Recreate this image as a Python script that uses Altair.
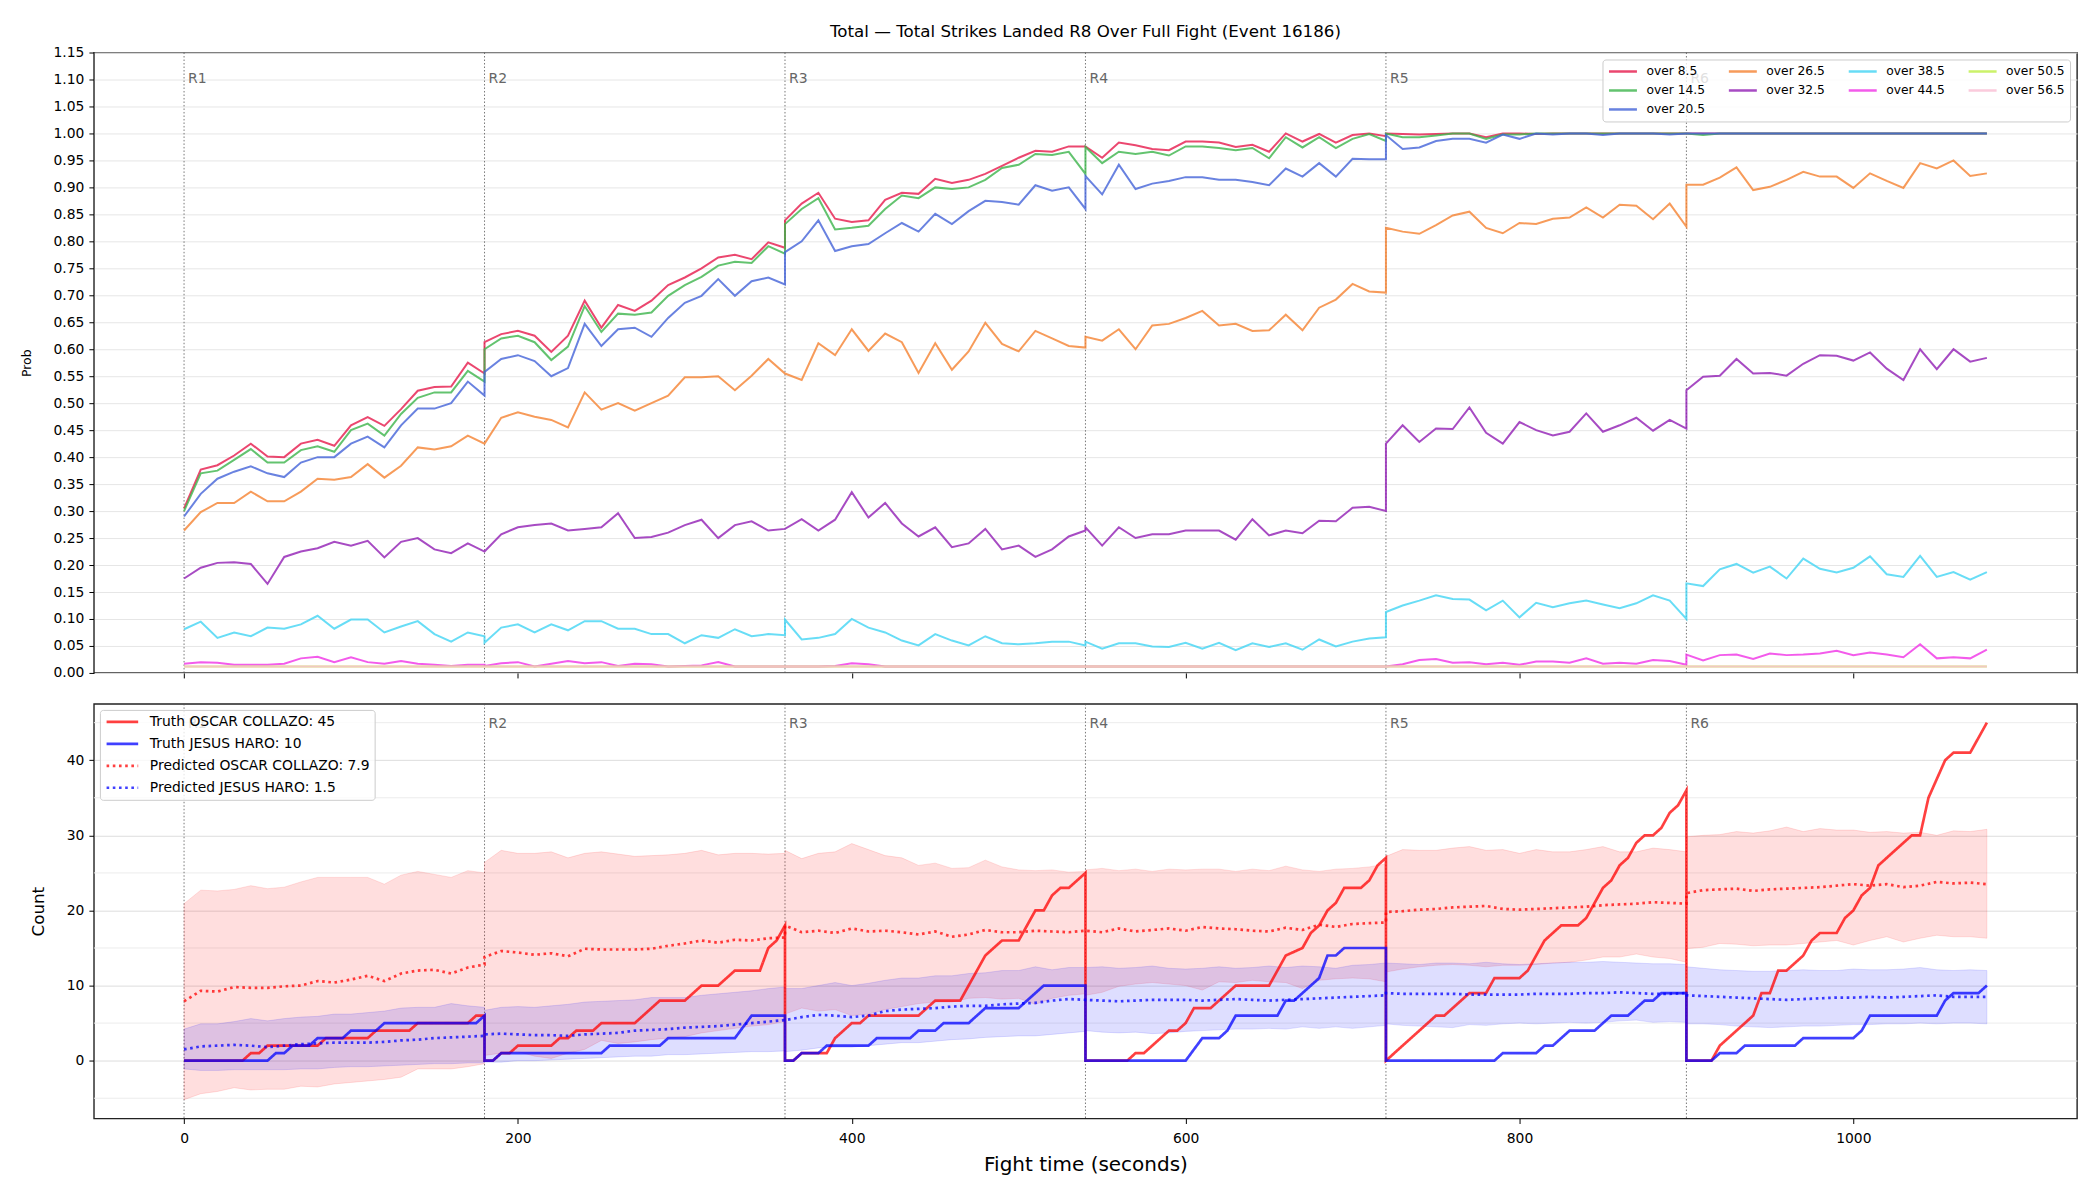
import altair as alt
import pandas as pd

TITLE = "Total \u2014 Total Strikes Landed R8 Over Full Fight (Event 16186)"
ROUND_STARTS = [0, 180, 360, 540, 720, 900]
ROUND_NAMES = ["R1", "R2", "R3", "R4", "R5", "R6"]
T_OFF = [0, 10, 20, 30, 40, 50, 60, 70, 80, 90, 100, 110, 120, 130, 140, 150, 160, 170, 180]
X_TICKS = [0, 200, 400, 600, 800, 1000]
PROB_TICKS = [0.00, 0.05, 0.10, 0.15, 0.20, 0.25, 0.30, 0.35, 0.40, 0.45, 0.50, 0.55,
              0.60, 0.65, 0.70, 0.75, 0.80, 0.85, 0.90, 0.95, 1.00, 1.05, 1.10, 1.15]
COUNT_TICKS = [0, 10, 20, 30, 40]
COUNT_MINOR = [-5, 5, 15, 25, 35, 45]

LINE_NAMES = ["over 8.5", "over 14.5", "over 20.5", "over 26.5", "over 32.5",
              "over 38.5", "over 44.5", "over 50.5", "over 56.5"]
LINE_COLORS = ["#e6194b", "#3cb44b", "#4363d8", "#f58231", "#911eb4",
               "#42d4f4", "#f032e6", "#bfef45", "#fabed4"]
# entry order that makes the 4-column legend read column by column
LEGEND_SLOT = [0, 7, 6, 3, 1, 8, 5, 4, 2]

# probability series, one list per round (t = round start + T_OFF)
P85 = [
    [0.305, 0.377, 0.385, 0.403, 0.425, 0.401, 0.400, 0.425, 0.432, 0.421, 0.459, 0.474, 0.458, 0.489, 0.523, 0.530, 0.531, 0.575, 0.555],
    [0.613, 0.628, 0.634, 0.625, 0.595, 0.625, 0.690, 0.640, 0.682, 0.671, 0.690, 0.719, 0.733, 0.750, 0.770, 0.775, 0.767, 0.798, 0.788],
    [0.839, 0.870, 0.890, 0.842, 0.836, 0.839, 0.877, 0.890, 0.888, 0.916, 0.908, 0.914, 0.925, 0.940, 0.955, 0.968, 0.966, 0.976, 0.976],
    [0.976, 0.955, 0.983, 0.978, 0.971, 0.969, 0.985, 0.985, 0.983, 0.975, 0.979, 0.966, 1.000, 0.985, 0.999, 0.983, 0.997, 1.000, 0.995],
    [1.000, 0.999, 0.998, 0.999, 1.000, 1.000, 0.993, 1.000, 1.000, 0.999, 1.000, 1.000, 1.000, 1.000, 1.000, 1.000, 1.000, 1.000, 1.000],
    [1.000, 1.000, 1.000, 1.000, 1.000, 1.000, 1.000, 1.000, 1.000, 1.000, 1.000, 1.000, 1.000, 1.000, 1.000, 1.000, 1.000, 1.000, 1.000],
]
P145 = [
    [0.300, 0.370, 0.375, 0.395, 0.415, 0.390, 0.390, 0.413, 0.420, 0.410, 0.450, 0.462, 0.440, 0.480, 0.510, 0.520, 0.520, 0.560, 0.540],
    [0.600, 0.620, 0.625, 0.613, 0.580, 0.605, 0.680, 0.632, 0.666, 0.664, 0.668, 0.699, 0.719, 0.734, 0.755, 0.762, 0.760, 0.791, 0.777],
    [0.832, 0.860, 0.880, 0.822, 0.825, 0.829, 0.860, 0.885, 0.880, 0.900, 0.897, 0.900, 0.914, 0.936, 0.942, 0.962, 0.960, 0.966, 0.925],
    [0.975, 0.945, 0.966, 0.962, 0.966, 0.959, 0.976, 0.976, 0.973, 0.969, 0.973, 0.954, 0.993, 0.974, 0.993, 0.973, 0.990, 0.999, 0.986],
    [1.000, 0.993, 0.993, 0.996, 1.000, 1.000, 0.990, 0.998, 0.998, 1.000, 1.000, 1.000, 1.000, 1.000, 1.000, 1.000, 1.000, 1.000, 1.000],
    [1.000, 0.997, 1.000, 1.000, 1.000, 1.000, 1.000, 1.000, 1.000, 1.000, 1.000, 1.000, 1.000, 1.000, 1.000, 1.000, 1.000, 1.000, 1.000],
]
P205 = [
    [0.290, 0.332, 0.360, 0.373, 0.383, 0.370, 0.363, 0.390, 0.400, 0.400, 0.425, 0.438, 0.418, 0.459, 0.490, 0.490, 0.500, 0.540, 0.514],
    [0.558, 0.582, 0.589, 0.578, 0.550, 0.565, 0.647, 0.606, 0.637, 0.640, 0.623, 0.658, 0.686, 0.699, 0.730, 0.699, 0.726, 0.733, 0.720],
    [0.780, 0.800, 0.839, 0.782, 0.791, 0.795, 0.815, 0.834, 0.818, 0.851, 0.832, 0.856, 0.875, 0.873, 0.868, 0.904, 0.894, 0.900, 0.860],
    [0.921, 0.887, 0.942, 0.897, 0.907, 0.912, 0.919, 0.919, 0.914, 0.914, 0.910, 0.904, 0.935, 0.920, 0.945, 0.920, 0.953, 0.952, 0.952],
    [0.997, 0.971, 0.974, 0.986, 0.990, 0.990, 0.983, 0.998, 0.990, 1.000, 0.998, 1.000, 1.000, 0.997, 1.000, 1.000, 1.000, 0.998, 1.000],
    [1.000, 1.000, 1.000, 1.000, 1.000, 1.000, 1.000, 1.000, 1.000, 1.000, 1.000, 1.000, 1.000, 1.000, 1.000, 1.000, 1.000, 1.000, 1.000],
]
P265 = [
    [0.264, 0.298, 0.315, 0.315, 0.336, 0.318, 0.318, 0.336, 0.360, 0.358, 0.363, 0.387, 0.362, 0.384, 0.418, 0.414, 0.420, 0.440, 0.425],
    [0.425, 0.473, 0.483, 0.475, 0.469, 0.455, 0.520, 0.488, 0.500, 0.486, 0.500, 0.514, 0.548, 0.548, 0.550, 0.524, 0.551, 0.582, 0.555],
    [0.555, 0.543, 0.611, 0.589, 0.637, 0.597, 0.629, 0.613, 0.556, 0.611, 0.562, 0.596, 0.649, 0.610, 0.596, 0.634, 0.620, 0.606, 0.603],
    [0.623, 0.616, 0.637, 0.600, 0.644, 0.647, 0.658, 0.671, 0.644, 0.647, 0.634, 0.635, 0.664, 0.635, 0.677, 0.692, 0.721, 0.707, 0.705],
    [0.825, 0.818, 0.814, 0.830, 0.848, 0.855, 0.825, 0.815, 0.834, 0.832, 0.842, 0.844, 0.863, 0.844, 0.868, 0.866, 0.841, 0.870, 0.827],
    [0.905, 0.905, 0.918, 0.937, 0.895, 0.901, 0.914, 0.929, 0.920, 0.920, 0.899, 0.926, 0.912, 0.899, 0.945, 0.935, 0.950, 0.921, 0.926],
]
P325 = [
    [0.175, 0.195, 0.204, 0.205, 0.202, 0.165, 0.215, 0.225, 0.231, 0.243, 0.236, 0.245, 0.214, 0.243, 0.250, 0.229, 0.222, 0.240, 0.225],
    [0.225, 0.257, 0.270, 0.274, 0.277, 0.264, 0.267, 0.270, 0.296, 0.250, 0.252, 0.260, 0.274, 0.284, 0.250, 0.274, 0.281, 0.264, 0.267],
    [0.267, 0.285, 0.264, 0.284, 0.335, 0.288, 0.315, 0.277, 0.253, 0.270, 0.233, 0.240, 0.267, 0.229, 0.236, 0.215, 0.229, 0.253, 0.264],
    [0.270, 0.236, 0.270, 0.250, 0.257, 0.257, 0.264, 0.264, 0.264, 0.247, 0.285, 0.255, 0.264, 0.259, 0.282, 0.281, 0.306, 0.308, 0.300],
    [0.425, 0.459, 0.428, 0.453, 0.452, 0.492, 0.445, 0.425, 0.465, 0.450, 0.440, 0.447, 0.481, 0.447, 0.459, 0.473, 0.449, 0.469, 0.453],
    [0.524, 0.549, 0.551, 0.582, 0.555, 0.556, 0.551, 0.573, 0.589, 0.588, 0.579, 0.594, 0.564, 0.543, 0.600, 0.563, 0.600, 0.577, 0.584],
]
P385 = [
    [0.081, 0.095, 0.065, 0.075, 0.068, 0.084, 0.082, 0.090, 0.106, 0.082, 0.099, 0.099, 0.075, 0.086, 0.096, 0.072, 0.058, 0.075, 0.068],
    [0.056, 0.084, 0.090, 0.075, 0.090, 0.079, 0.096, 0.096, 0.082, 0.082, 0.072, 0.072, 0.055, 0.070, 0.065, 0.081, 0.068, 0.072, 0.070],
    [0.099, 0.062, 0.065, 0.072, 0.100, 0.084, 0.075, 0.060, 0.051, 0.072, 0.060, 0.051, 0.068, 0.055, 0.053, 0.055, 0.058, 0.058, 0.051],
    [0.058, 0.045, 0.055, 0.055, 0.049, 0.048, 0.056, 0.045, 0.056, 0.042, 0.055, 0.048, 0.055, 0.043, 0.062, 0.049, 0.058, 0.064, 0.066],
    [0.113, 0.125, 0.134, 0.144, 0.137, 0.136, 0.116, 0.134, 0.103, 0.130, 0.122, 0.129, 0.134, 0.127, 0.120, 0.129, 0.144, 0.134, 0.100],
    [0.166, 0.161, 0.192, 0.202, 0.186, 0.197, 0.175, 0.212, 0.193, 0.186, 0.195, 0.216, 0.183, 0.178, 0.217, 0.178, 0.187, 0.173, 0.187],
]
P445 = [
    [0.017, 0.020, 0.019, 0.015, 0.015, 0.015, 0.017, 0.027, 0.030, 0.020, 0.029, 0.020, 0.017, 0.022, 0.017, 0.015, 0.013, 0.015, 0.015],
    [0.013, 0.018, 0.020, 0.012, 0.017, 0.022, 0.018, 0.020, 0.013, 0.017, 0.016, 0.012, 0.013, 0.014, 0.020, 0.012, 0.012, 0.012, 0.012],
    [0.012, 0.012, 0.012, 0.013, 0.018, 0.016, 0.012, 0.012, 0.012, 0.012, 0.012, 0.012, 0.012, 0.012, 0.012, 0.012, 0.012, 0.012, 0.012],
    [0.012, 0.012, 0.012, 0.012, 0.012, 0.012, 0.012, 0.012, 0.012, 0.012, 0.012, 0.012, 0.012, 0.012, 0.012, 0.012, 0.012, 0.012, 0.012],
    [0.012, 0.016, 0.024, 0.026, 0.019, 0.020, 0.016, 0.019, 0.015, 0.021, 0.021, 0.019, 0.027, 0.017, 0.019, 0.017, 0.024, 0.022, 0.015],
    [0.034, 0.023, 0.033, 0.034, 0.026, 0.036, 0.033, 0.034, 0.036, 0.041, 0.033, 0.038, 0.034, 0.029, 0.053, 0.027, 0.029, 0.027, 0.043],
]
FLAT_T = [0, 1080]
P505 = [0.012, 0.012]
P565 = [0.012, 0.012]

# bottom panel: predicted means and bands, one list per round
PRED_OSCAR = [
    [7.9, 9.3, 9.2, 9.8, 9.7, 9.7, 9.9, 10.0, 10.6, 10.4, 10.8, 11.3, 10.6, 11.6, 12.0, 12.1, 11.6, 12.4, 12.8],
    [13.8, 14.6, 14.4, 14.1, 14.3, 13.9, 14.9, 14.8, 14.8, 14.8, 14.9, 15.3, 15.6, 16.0, 15.7, 16.1, 16.0, 16.3, 16.4],
    [18.0, 17.1, 17.3, 17.0, 17.6, 17.2, 17.3, 17.1, 16.8, 17.2, 16.5, 16.8, 17.4, 17.1, 17.1, 17.3, 17.2, 17.1, 17.3],
    [17.3, 17.1, 17.6, 17.2, 17.4, 17.6, 17.3, 17.8, 17.6, 17.5, 17.3, 17.2, 17.7, 17.4, 18.1, 17.8, 18.2, 18.3, 18.4],
    [19.8, 19.9, 20.1, 20.2, 20.4, 20.5, 20.6, 20.2, 20.1, 20.2, 20.3, 20.4, 20.5, 20.7, 20.8, 20.9, 21.1, 21.0, 20.9],
    [22.3, 22.7, 22.8, 22.9, 22.6, 22.8, 22.9, 23.0, 23.1, 23.3, 23.5, 23.3, 23.5, 23.1, 23.3, 23.8, 23.6, 23.7, 23.5],
]
PRED_JESUS = [
    [1.5, 1.9, 2.0, 2.1, 2.0, 1.8, 2.0, 2.2, 2.3, 2.4, 2.4, 2.4, 2.5, 2.7, 2.8, 3.0, 3.1, 3.2, 3.3],
    [3.5, 3.6, 3.5, 3.4, 3.4, 3.3, 3.5, 3.6, 3.7, 4.0, 4.1, 4.2, 4.4, 4.5, 4.6, 4.8, 5.0, 5.2, 5.4],
    [5.4, 5.8, 6.1, 6.0, 5.8, 6.0, 6.6, 6.8, 6.9, 7.0, 7.2, 7.3, 7.3, 7.5, 7.6, 7.7, 8.0, 8.2, 8.1],
    [8.1, 8.0, 7.9, 8.0, 8.1, 8.1, 8.1, 8.0, 8.1, 8.2, 8.1, 8.0, 8.1, 8.2, 8.3, 8.4, 8.5, 8.6, 8.7],
    [9.0, 8.9, 8.9, 8.9, 8.9, 8.8, 8.8, 8.8, 8.8, 8.9, 8.9, 8.9, 9.0, 9.0, 9.1, 9.0, 8.9, 8.9, 9.0],
    [8.7, 8.6, 8.5, 8.4, 8.3, 8.2, 8.1, 8.2, 8.3, 8.4, 8.4, 8.5, 8.4, 8.5, 8.6, 8.7, 8.5, 8.5, 8.5],
]
OSCAR_HI = [
    [20.9, 22.7, 22.6, 22.8, 23.3, 22.9, 23.1, 23.8, 24.4, 24.4, 24.4, 24.4, 23.5, 24.7, 25.2, 24.8, 24.4, 25.3, 25.0],
    [26.4, 28.0, 27.6, 27.6, 27.8, 27.0, 27.6, 27.8, 27.5, 27.2, 27.3, 27.4, 27.6, 28.0, 27.4, 27.6, 27.6, 27.5, 27.6],
    [28.0, 26.9, 27.6, 27.8, 28.9, 28.1, 27.3, 27.0, 26.0, 26.3, 25.6, 25.7, 26.7, 25.8, 25.4, 25.3, 25.4, 25.1, 25.2],
    [25.4, 25.6, 25.3, 25.5, 25.2, 25.5, 25.4, 25.5, 25.5, 25.2, 25.5, 25.3, 25.9, 25.4, 25.2, 25.5, 25.6, 25.8, 26.2],
    [27.2, 28.1, 28.0, 28.0, 28.3, 28.5, 28.0, 28.1, 27.6, 28.1, 27.8, 27.8, 28.1, 28.5, 27.8, 27.8, 28.3, 28.1, 27.8],
    [29.8, 30.0, 30.1, 30.5, 30.3, 30.6, 31.1, 30.5, 30.9, 30.7, 30.7, 30.4, 30.5, 30.3, 30.4, 30.0, 30.6, 30.5, 30.8],
]
OSCAR_LO = [
    [-5.2, -4.4, -4.1, -3.6, -3.9, -3.8, -3.8, -3.4, -3.5, -3.1, -2.9, -2.7, -2.5, -2.2, -1.1, -1.1, -1.1, -0.8, -0.4],
    [0.7, 1.0, 1.2, 0.6, 0.3, 1.0, 1.5, 2.7, 2.3, 2.5, 2.8, 3.0, 3.2, 3.7, 4.0, 4.3, 4.6, 4.8, 5.2],
    [6.2, 7.0, 6.6, 6.8, 6.0, 6.2, 6.8, 7.2, 7.6, 7.8, 7.8, 8.3, 8.4, 8.2, 8.3, 7.5, 8.3, 8.7, 8.9],
    [8.7, 9.1, 9.9, 10.2, 10.4, 10.2, 10.0, 9.4, 10.5, 10.4, 10.7, 10.5, 10.4, 9.6, 10.7, 10.9, 11.0, 10.9, 10.5],
    [11.8, 12.2, 12.5, 12.7, 12.8, 12.7, 12.5, 12.7, 12.7, 12.8, 13.0, 13.1, 13.4, 13.8, 13.8, 14.2, 13.8, 13.6, 13.1],
    [14.9, 15.1, 15.6, 15.5, 15.3, 15.4, 15.4, 15.6, 15.8, 16.0, 15.4, 16.0, 16.5, 15.8, 16.3, 16.7, 16.5, 16.5, 16.3],
]
JESUS_HI = [
    [4.2, 4.9, 4.9, 5.2, 5.6, 5.3, 5.6, 5.8, 5.9, 6.2, 6.2, 6.4, 6.6, 7.0, 7.1, 7.1, 7.6, 7.3, 7.1],
    [6.7, 7.1, 7.2, 7.1, 7.3, 7.5, 7.8, 7.9, 8.0, 8.1, 8.4, 8.4, 8.4, 8.7, 8.9, 9.1, 9.3, 9.6, 9.8],
    [9.6, 9.6, 10.0, 10.4, 10.0, 10.3, 10.7, 11.0, 11.0, 11.3, 11.3, 11.6, 11.7, 12.0, 12.0, 12.5, 12.1, 12.4, 12.4],
    [12.4, 12.5, 12.3, 12.4, 12.6, 12.3, 12.2, 12.3, 12.5, 12.3, 12.4, 12.6, 12.4, 12.6, 12.5, 12.3, 12.7, 12.8, 13.0],
    [13.0, 12.9, 12.8, 13.0, 13.0, 12.9, 13.1, 12.9, 12.8, 12.9, 13.0, 13.1, 13.1, 13.2, 13.1, 13.0, 12.9, 12.9, 12.8],
    [12.5, 12.3, 12.1, 12.0, 11.9, 11.9, 12.0, 12.1, 12.0, 12.0, 12.2, 12.1, 12.1, 12.2, 12.4, 12.1, 12.0, 12.1, 12.0],
]
JESUS_LO = [
    [-1.1, -1.3, -1.3, -1.2, -1.2, -1.2, -1.2, -1.1, -1.1, -0.9, -0.8, -0.8, -0.7, -0.6, -0.5, -0.4, -0.4, -0.3, -0.3],
    [-0.2, -0.2, 0.0, 0.0, 0.1, 0.2, 0.3, 0.4, 0.5, 0.6, 0.6, 0.8, 0.8, 0.9, 1.0, 1.1, 1.2, 1.2, 1.3],
    [1.2, 1.4, 1.7, 1.8, 1.8, 2.0, 2.2, 2.4, 2.4, 2.6, 2.8, 2.9, 3.1, 3.2, 3.3, 3.3, 3.5, 3.7, 3.9],
    [4.0, 3.8, 3.7, 3.8, 3.6, 3.7, 3.9, 4.0, 4.1, 4.2, 4.2, 4.3, 4.2, 4.5, 4.3, 4.5, 4.3, 4.5, 4.7],
    [4.9, 4.7, 4.6, 4.5, 4.4, 4.8, 4.7, 4.9, 5.0, 4.9, 5.0, 5.1, 5.0, 5.1, 5.3, 5.4, 5.1, 5.2, 5.1],
    [4.9, 4.9, 4.8, 4.6, 4.5, 4.4, 4.5, 4.6, 4.6, 4.7, 4.8, 4.8, 4.9, 4.9, 5.0, 4.9, 5.0, 5.0, 4.9],
]

# truth counts: (time, count) break points, one list per round
TRUTH_OSCAR_T = [
    [0, 35, 40, 45, 50, 80, 85, 110, 115, 135, 140, 170, 175, 180],
    [180, 185, 190, 195, 200, 220, 225, 230, 235, 245, 250, 270, 285, 300, 310, 320, 330, 345, 350, 355, 360],
    [360, 365, 370, 385, 390, 400, 405, 410, 440, 450, 465, 480, 490, 500, 510, 515, 520, 525, 530, 540],
    [540, 565, 570, 575, 590, 595, 600, 605, 615, 620, 630, 650, 660, 670, 675, 680, 685, 690, 695, 705, 710, 715, 720],
    [720, 750, 755, 770, 780, 785, 800, 805, 815, 825, 835, 840, 850, 855, 860, 865, 870, 875, 880, 885, 890, 895, 900],
    [900, 915, 920, 940, 945, 950, 955, 960, 970, 975, 980, 990, 995, 1000, 1005, 1010, 1015, 1035, 1040, 1045, 1055, 1060, 1070, 1080],
]
TRUTH_OSCAR_V = [
    [0, 0, 1, 1, 2, 2, 3, 3, 4, 4, 5, 5, 6, 6],
    [0, 0, 1, 1, 2, 2, 3, 3, 4, 4, 5, 5, 8, 8, 10, 10, 12, 12, 15, 16, 18],
    [0, 0, 1, 1, 3, 5, 5, 6, 6, 8, 8, 14, 16, 16, 20, 20, 22, 23, 23, 25],
    [0, 0, 1, 1, 4, 4, 5, 7, 7, 8, 10, 10, 14, 15, 17, 18, 20, 21, 23, 23, 24, 26, 27],
    [0, 6, 6, 9, 9, 11, 11, 12, 16, 18, 18, 19, 23, 24, 26, 27, 29, 30, 30, 31, 33, 34, 36],
    [0, 0, 2, 6, 9, 9, 12, 12, 14, 16, 17, 17, 19, 20, 22, 23, 26, 30, 30, 35, 40, 41, 41, 45],
]
TRUTH_JESUS_T = [
    [0, 50, 55, 60, 65, 75, 80, 95, 100, 115, 120, 175, 180],
    [180, 185, 190, 250, 255, 285, 290, 330, 340, 360],
    [360, 365, 370, 380, 385, 410, 415, 435, 440, 450, 455, 470, 480, 500, 515, 540],
    [540, 600, 610, 620, 625, 630, 655, 660, 665, 680, 685, 690, 695, 720],
    [720, 785, 790, 810, 815, 820, 830, 845, 855, 865, 875, 880, 885, 900],
    [900, 915, 920, 930, 935, 965, 970, 1000, 1005, 1010, 1050, 1055, 1060, 1075, 1080],
]
TRUTH_JESUS_V = [
    [0, 0, 1, 1, 2, 2, 3, 3, 4, 4, 5, 5, 6],
    [0, 0, 1, 1, 2, 2, 3, 3, 6, 6],
    [0, 0, 1, 1, 2, 2, 3, 3, 4, 4, 5, 5, 7, 7, 10, 10],
    [0, 0, 3, 3, 4, 6, 6, 8, 8, 11, 14, 14, 15, 15],
    [0, 0, 1, 1, 2, 2, 4, 4, 6, 6, 8, 8, 9, 9],
    [0, 0, 1, 1, 2, 2, 3, 3, 4, 6, 6, 8, 9, 9, 10],
]

BOTTOM_NAMES = ["Truth OSCAR COLLAZO: 45", "Truth JESUS HARO: 10",
                "Predicted OSCAR COLLAZO: 7.9", "Predicted JESUS HARO: 1.5"]
BOTTOM_COLORS = ["#ff0000", "#0000ff", "#ff0000", "#0000ff"]
BOTTOM_DASH = [[1, 0], [1, 0], [2.6, 3.6], [2.6, 3.6]]
BOTTOM_OPACITY = [0.75, 0.75, 0.6, 0.6]

# ---------------- data frames ----------------
def per_round(nested, col):
    rows, i = [], 0
    for start, vals in zip(ROUND_STARTS, nested):
        for off, val in zip(T_OFF, vals):
            rows.append({"t": start + off, col: val, "o": i})
            i += 1
    return rows

top_rows = []
for name, nested in zip(LINE_NAMES[:7], [P85, P145, P205, P265, P325, P385, P445]):
    for r in per_round(nested, "p"):
        r["s"] = name
        top_rows.append(r)
for name, vals in zip(LINE_NAMES[7:], [P505, P565]):
    for i, (t, v) in enumerate(zip(FLAT_T, vals)):
        top_rows.append({"t": t, "p": v, "o": i, "s": name})
df_top = pd.DataFrame(top_rows)

bot_rows = []
for name, tl, vl in [(BOTTOM_NAMES[0], TRUTH_OSCAR_T, TRUTH_OSCAR_V),
                     (BOTTOM_NAMES[1], TRUTH_JESUS_T, TRUTH_JESUS_V)]:
    i = 0
    for ts, vs in zip(tl, vl):
        for t, v in zip(ts, vs):
            bot_rows.append({"t": t, "v": v, "o": i, "s": name})
            i += 1
for name, nested in [(BOTTOM_NAMES[2], PRED_OSCAR), (BOTTOM_NAMES[3], PRED_JESUS)]:
    for r in per_round(nested, "v"):
        r["s"] = name
        bot_rows.append(r)
df_bot = pd.DataFrame(bot_rows)

def band(lo, hi):
    a = per_round(lo, "v")
    b = per_round(hi, "v2")
    for r, q in zip(a, b):
        r["v2"] = q["v2"]
    return pd.DataFrame(a)

df_band_o = band(OSCAR_LO, OSCAR_HI)
df_band_j = band(JESUS_LO, JESUS_HI)
df_rounds = pd.DataFrame({"t": ROUND_STARTS, "lab": ROUND_NAMES})
df_minor = pd.DataFrame({"v": COUNT_MINOR})

# ---------------- encodings ----------------
X_SCALE = alt.Scale(domain=[-54, 1134], nice=False, zero=False)
X_TOP = alt.X("t:Q", scale=X_SCALE,
              axis=alt.Axis(values=X_TICKS, labels=False, title=None, grid=False, ticks=True))
X_BOT = alt.X("t:Q", scale=X_SCALE,
              axis=alt.Axis(values=X_TICKS, format="d", title="Fight time (seconds)", grid=False, ticks=True,
                            titleFontSize=20, titlePadding=9, labelPadding=8))
Y_TOP_SCALE = alt.Scale(domain=[0, 1.15], nice=False, zero=False)
Y_TOP_AXIS = alt.Axis(values=PROB_TICKS, format=".2f", title="Prob", titleFontSize=12.5,
                      titlePadding=15, grid=True, gridColor="#e6e6e6", labelOverlap=False,
                      minExtent=45, maxExtent=45, labelPadding=5)
Y_TOP = alt.Y("p:Q", scale=Y_TOP_SCALE, axis=Y_TOP_AXIS)
Y_BOT_SCALE = alt.Scale(domain=[-7.7, 47.5], nice=False, zero=False)
Y_BOT_AXIS = alt.Axis(values=COUNT_TICKS, format="d", title="Count", titleFontSize=16.7,
                      titlePadding=1, grid=True, gridColor="#dddddd", labelOverlap=False,
                      minExtent=45, maxExtent=45, labelPadding=5)
Y_BOT = alt.Y("v:Q", scale=Y_BOT_SCALE, axis=Y_BOT_AXIS)

legend_order = [LINE_NAMES[i] for i in LEGEND_SLOT]
legend_colors = [LINE_COLORS[i] for i in LEGEND_SLOT]

top_legend = alt.Legend(title=None, orient="top-right", offset=7, columns=4,
                        symbolType="stroke", symbolSize=784, symbolStrokeWidth=2.5,
                        labelFontSize=12.3, labelOffset=8, labelColor="#000000", labelLimit=300,
                        clipHeight=14, rowPadding=5, columnPadding=22, padding=5,
                        fillColor="rgba(255,255,255,0.8)", strokeColor="#cccccc",
                        cornerRadius=3, symbolOpacity=0.8)

rules_top = alt.Chart(df_rounds).mark_rule(color="#555555", strokeDash=[1.5, 2], strokeWidth=1, opacity=0.8).encode(
    x=X_TOP)
lines_top = alt.Chart(df_top).mark_line(strokeWidth=2, opacity=0.8).encode(
    x=X_TOP, y=Y_TOP,
    color=alt.Color("s:N", scale=alt.Scale(domain=legend_order, range=legend_colors), legend=top_legend),
    order=alt.Order("o:Q"))
labels_top = alt.Chart(df_rounds).mark_text(align="left", baseline="middle", dx=4, fontSize=14,
                                            color="#666666").encode(
    x=X_TOP, y=alt.Y(datum=1.10, scale=Y_TOP_SCALE, axis=Y_TOP_AXIS), text="lab:N")

top = alt.layer(rules_top, lines_top, labels_top).properties(
    width=1985, height=621,
    title=alt.TitleParams(TITLE, anchor="middle", frame="group", offset=5, fontSize=16.7,
                          fontWeight="normal", color="#000000"))

bot_legend = alt.Legend(title=None, orient="top-left", offset=6,
                        symbolType="stroke", symbolSize=1000, symbolStrokeWidth=2.6,
                        labelFontSize=13.9, labelOffset=10, labelColor="#000000", labelLimit=400,
                        clipHeight=14, rowPadding=8, padding=5,
                        fillColor="rgba(255,255,255,0.8)", strokeColor="#cccccc", cornerRadius=3)

minor_grid = alt.Chart(df_minor).mark_rule(color="#ececec", strokeWidth=1).encode(y=Y_BOT)
rules_bot = alt.Chart(df_rounds).mark_rule(color="#555555", strokeDash=[1.5, 2], strokeWidth=1, opacity=0.8).encode(
    x=X_BOT)
area_o = alt.Chart(df_band_o).mark_area(fill="#ff0000", fillOpacity=0.13, stroke="#ff0000",
                                        strokeOpacity=0.12, strokeWidth=1).encode(
    x=X_BOT, y=Y_BOT, y2="v2:Q")
area_j = alt.Chart(df_band_j).mark_area(fill="#0000ff", fillOpacity=0.13, stroke="#0000ff",
                                        strokeOpacity=0.12, strokeWidth=1).encode(
    x=X_BOT, y=Y_BOT, y2="v2:Q")
lines_bot = alt.Chart(df_bot).mark_line(strokeWidth=2.7).encode(
    x=X_BOT, y=Y_BOT,
    color=alt.Color("s:N", scale=alt.Scale(domain=BOTTOM_NAMES, range=BOTTOM_COLORS), legend=bot_legend),
    strokeDash=alt.StrokeDash("s:N", scale=alt.Scale(domain=BOTTOM_NAMES, range=BOTTOM_DASH), legend=bot_legend),
    opacity=alt.Opacity("s:N", scale=alt.Scale(domain=BOTTOM_NAMES, range=BOTTOM_OPACITY), legend=bot_legend),
    order=alt.Order("o:Q"))
labels_bot = alt.Chart(df_rounds).mark_text(align="left", baseline="middle", dx=4, fontSize=14,
                                            color="#666666").encode(
    x=X_BOT, y=alt.Y(datum=44.8, scale=Y_BOT_SCALE, axis=Y_BOT_AXIS), text="lab:N")

bottom = alt.layer(minor_grid, rules_bot, area_o, area_j, lines_bot, labels_bot).properties(
    width=1985, height=415)

chart = alt.vconcat(top, bottom, spacing=31, bounds="flush").resolve_scale(
    color="independent", strokeDash="independent", opacity="independent", x="independent", y="independent"
).properties(
    padding={"left": 20, "top": 22, "right": 21, "bottom": 17}
).configure(font="DejaVu Sans").configure_view(
    stroke="#222222", strokeWidth=1.4
).configure_axis(
    labelFontSize=13.9, labelColor="#000000", tickColor="#000000", tickSize=5, tickWidth=1,
    domain=False, titleFontWeight="normal", titleColor="#000000", labelOverlap=False,
    labelFont="DejaVu Sans", titleFont="DejaVu Sans"
).configure_title(font="DejaVu Sans")

chart.save("out.html", embed_options={"renderer": "svg", "actions": False})
